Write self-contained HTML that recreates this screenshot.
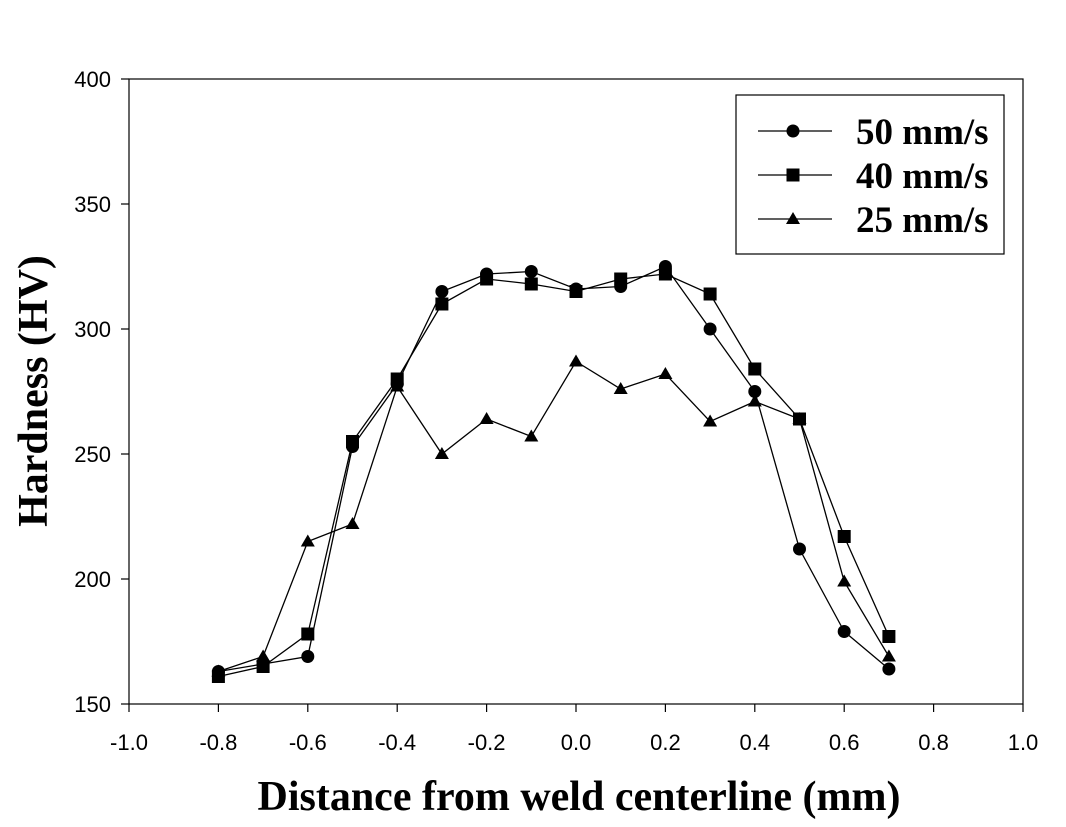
<!DOCTYPE html>
<html><head><meta charset="utf-8"><style>
body{margin:0;background:#fff;}
svg text{font-family:"Liberation Sans",Arial,sans-serif;}
.serif{font-family:"Liberation Serif","Times New Roman",serif;font-weight:bold;}
</style></head><body>
<svg id="chart" width="1066" height="822" xmlns="http://www.w3.org/2000/svg">
<rect x="129" y="79" width="894" height="625" fill="none" stroke="#000" stroke-width="1.2"/>
<g id="axes"></g>
<g id="series"></g>
<text class="serif" x="579" y="810" font-size="42" text-anchor="middle">Distance from weld centerline (mm)</text>
<text class="serif" transform="translate(47,391) rotate(-90)" font-size="42" text-anchor="middle">Hardness (HV)</text>
<g>
<rect x="736" y="95" width="268" height="159" fill="#fff" stroke="#000" stroke-width="1.2"/>
<g id="legend-items"></g>
</g>
</svg>
<script>
const xs = [-0.8,-0.7,-0.6,-0.5,-0.4,-0.3,-0.2,-0.1,0,0.1,0.2,0.3,0.4,0.5,0.6,0.7];
const s50 = [163,166,169,253,278,315,322,323,316,317,325,300,275,212,179,164];
const s40 = [161,165,178,255,280,310,320,318,315,320,322,314,284,264,217,177];
const s25 = [163,169,215,222,277,250,264,257,287,276,282,263,271,264,199,169];
const seriesNames = ["50 mm/s","40 mm/s","25 mm/s"];
const xTicks = [-1.0,-0.8,-0.6,-0.4,-0.2,0.0,0.2,0.4,0.6,0.8,1.0];
const yTicks = [150,200,250,300,350,400];
const NS="http://www.w3.org/2000/svg";
const X = v => 129 + (v+1)*447;
const Y = v => 79 + (400-v)*2.5;
function el(t,a,p){const e=document.createElementNS(NS,t);for(const k in a)e.setAttribute(k,a[k]);p.appendChild(e);return e;}
const axes=document.getElementById('axes');
xTicks.forEach(t=>{
  const l=el('line',{x1:X(t),x2:X(t),y1:704,y2:712,stroke:'#000','stroke-width':1.2},axes);
  
  
  const tx=el('text',{x:X(t),y:750,'font-size':22,'text-anchor':'middle'},axes);
  tx.textContent=t.toFixed(1);
  
  
});
yTicks.forEach(t=>{
  const l=el('line',{x1:121,x2:129,y1:Y(t),y2:Y(t),stroke:'#000','stroke-width':1.2},axes);
  
  
  const tx=el('text',{x:111,y:Y(t)+8,'font-size':22,'text-anchor':'end'},axes);
  tx.textContent=t;
  
  
});
function marker(kind,x,y,p){
  let m;
  if(kind===0) m=el('circle',{cx:x,cy:y,r:6.5,fill:'#000'},p);
  else if(kind===1) m=el('rect',{x:x-6.5,y:y-6.5,width:13,height:13,fill:'#000'},p);
  else m=el('polygon',{points:`${x},${y-7} ${x-7},${y+5} ${x+7},${y+5}`,fill:'#000'},p);
  return m;
}
const sg=document.getElementById('series');
[s50,s40,s25].forEach((s,k)=>{
  const g=el('g',{},sg);
  
  
  const pl=el('polyline',{points:xs.map((x,i)=>X(x)+','+Y(s[i])).join(' '),fill:'none',stroke:'#000','stroke-width':1.3},g);
  
  
  xs.forEach((x,i)=>{const m=marker(k,X(x),Y(s[i]),g);
    
    });
});
const lg=document.getElementById('legend-items');
seriesNames.forEach((n,k)=>{
  const y=131+k*44;
  const g=el('g',{},lg);
  
  
  el('line',{x1:758,x2:832,y1:y,y2:y,stroke:'#000','stroke-width':1.3},g);
  marker(k,793,y,g);
  const t=el('text',{x:856,y:y+13,'font-size':37,class:'serif'},g);
  t.textContent=n;
});
</script>
</body></html>
